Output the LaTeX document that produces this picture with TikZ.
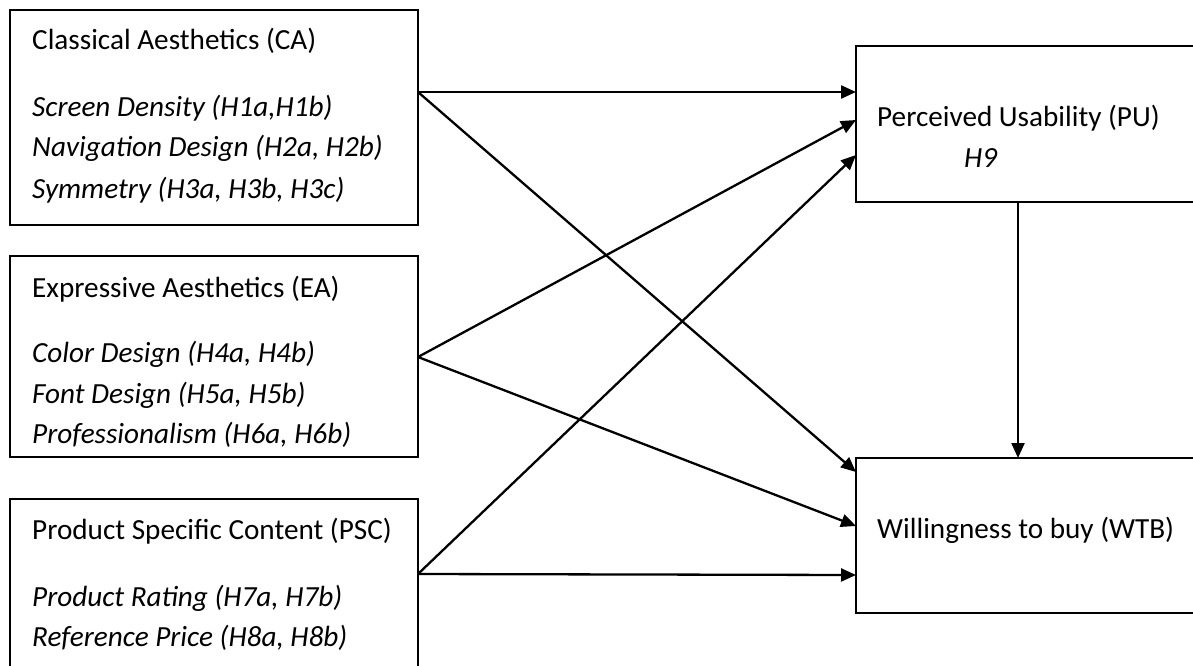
\documentclass[tikz,border=0pt]{standalone}
\usepackage{fontspec}
\setmainfont{Carlito}
\usetikzlibrary{arrows.meta}

\begin{document}
\begin{tikzpicture}[
      x=1pt, y=-1pt,
      box/.style={draw=black, line width=2pt, inner sep=0pt, outer sep=0pt, anchor=north west},
      txt/.style={anchor=base west, inner sep=0pt, font=\fontsize{29.2}{35}\selectfont},
      hyp/.style={txt, font=\fontsize{29.2}{35}\selectfont\itshape},
      arr/.style={-{Triangle[length=15pt,width=13pt]}, line width=2.3pt}
    ]
      \clip (0,0) rectangle (1193,666);
      % constructs
      \node[box, minimum width=408pt, minimum height=215pt] (ca) at (10,10) {};
      \node[box, minimum width=408pt, minimum height=201pt] (ea) at (10,256) {};
      \node[box, minimum width=408pt, minimum height=220pt] (psc) at (10,499) {};
      \node[box, minimum width=360pt, minimum height=156pt] (pu) at (856,46) {};
      \node[box, minimum width=360pt, minimum height=155pt] (wtb) at (856,458) {};
      % texts
      \node[txt] (ca-title) at (32,50) {Classical Aesthetics (CA)};
      \node[hyp] (ca-h1) at (32,117) {Screen Density (H1a,H1b)};
      \node[hyp] (ca-h2) at (32,157) {Navigation Design (H2a, H2b)};
      \node[hyp] (ca-h3) at (32,198) {Symmetry (H3a, H3b, H3c)};
      \node[txt] (ea-title) at (32,297) {Expressive Aesthetics (EA)};
      \node[hyp] (ea-h4) at (32,362) {Color Design (H4a, H4b)};
      \node[hyp] (ea-h5) at (32,403) {Font Design (H5a, H5b)};
      \node[hyp] (ea-h6) at (32,443) {Professionalism (H6a, H6b)};
      \node[txt] (psc-title) at (32,539) {Product Specific Content (PSC)};
      \node[hyp] (psc-h7) at (32,606) {Product Rating (H7a, H7b)};
      \node[hyp] (psc-h8) at (32,646) {Reference Price (H8a, H8b)};
      \node[txt] (pu-title) at (877,127) {Perceived Usability (PU)};
      \node[hyp] (pu-h9) at (964,167) {H9};
      \node[txt] (wtb-title) at (877,538) {Willingness to buy (WTB)};
      % connector ends
      \coordinate (ca-out) at ([yshift=-82pt]ca.north east);
      \coordinate (ea-out) at ([yshift=-101pt]ea.north east);
      \coordinate (psc-out) at ([yshift=-75pt]psc.north east);
      \coordinate (pu-in1) at ([yshift=-46pt]pu.north west);
      \coordinate (pu-in2) at ([yshift=-74pt]pu.north west);
      \coordinate (pu-in3) at ([yshift=-109pt]pu.north west);
      \coordinate (wtb-in1) at ([yshift=-14pt]wtb.north west);
      \coordinate (wtb-in2) at ([yshift=-68pt]wtb.north west);
      \coordinate (wtb-in3) at ([yshift=-117pt]wtb.north west);
      \coordinate (pu-down) at ([xshift=162pt]pu.south west);
      \coordinate (wtb-top) at ([xshift=162pt]wtb.north west);
      % paths
      \draw[arr] (ca-out) -- (pu-in1);
      \draw[arr] (ca-out) -- (wtb-in1);
      \draw[arr] (ea-out) -- (pu-in2);
      \draw[arr] (ea-out) -- (wtb-in2);
      \draw[arr] (psc-out) -- (pu-in3);
      \draw[arr] (psc-out) -- (wtb-in3);
      \draw[arr] (pu-down) -- (wtb-top);
    \end{tikzpicture}
\end{document}
